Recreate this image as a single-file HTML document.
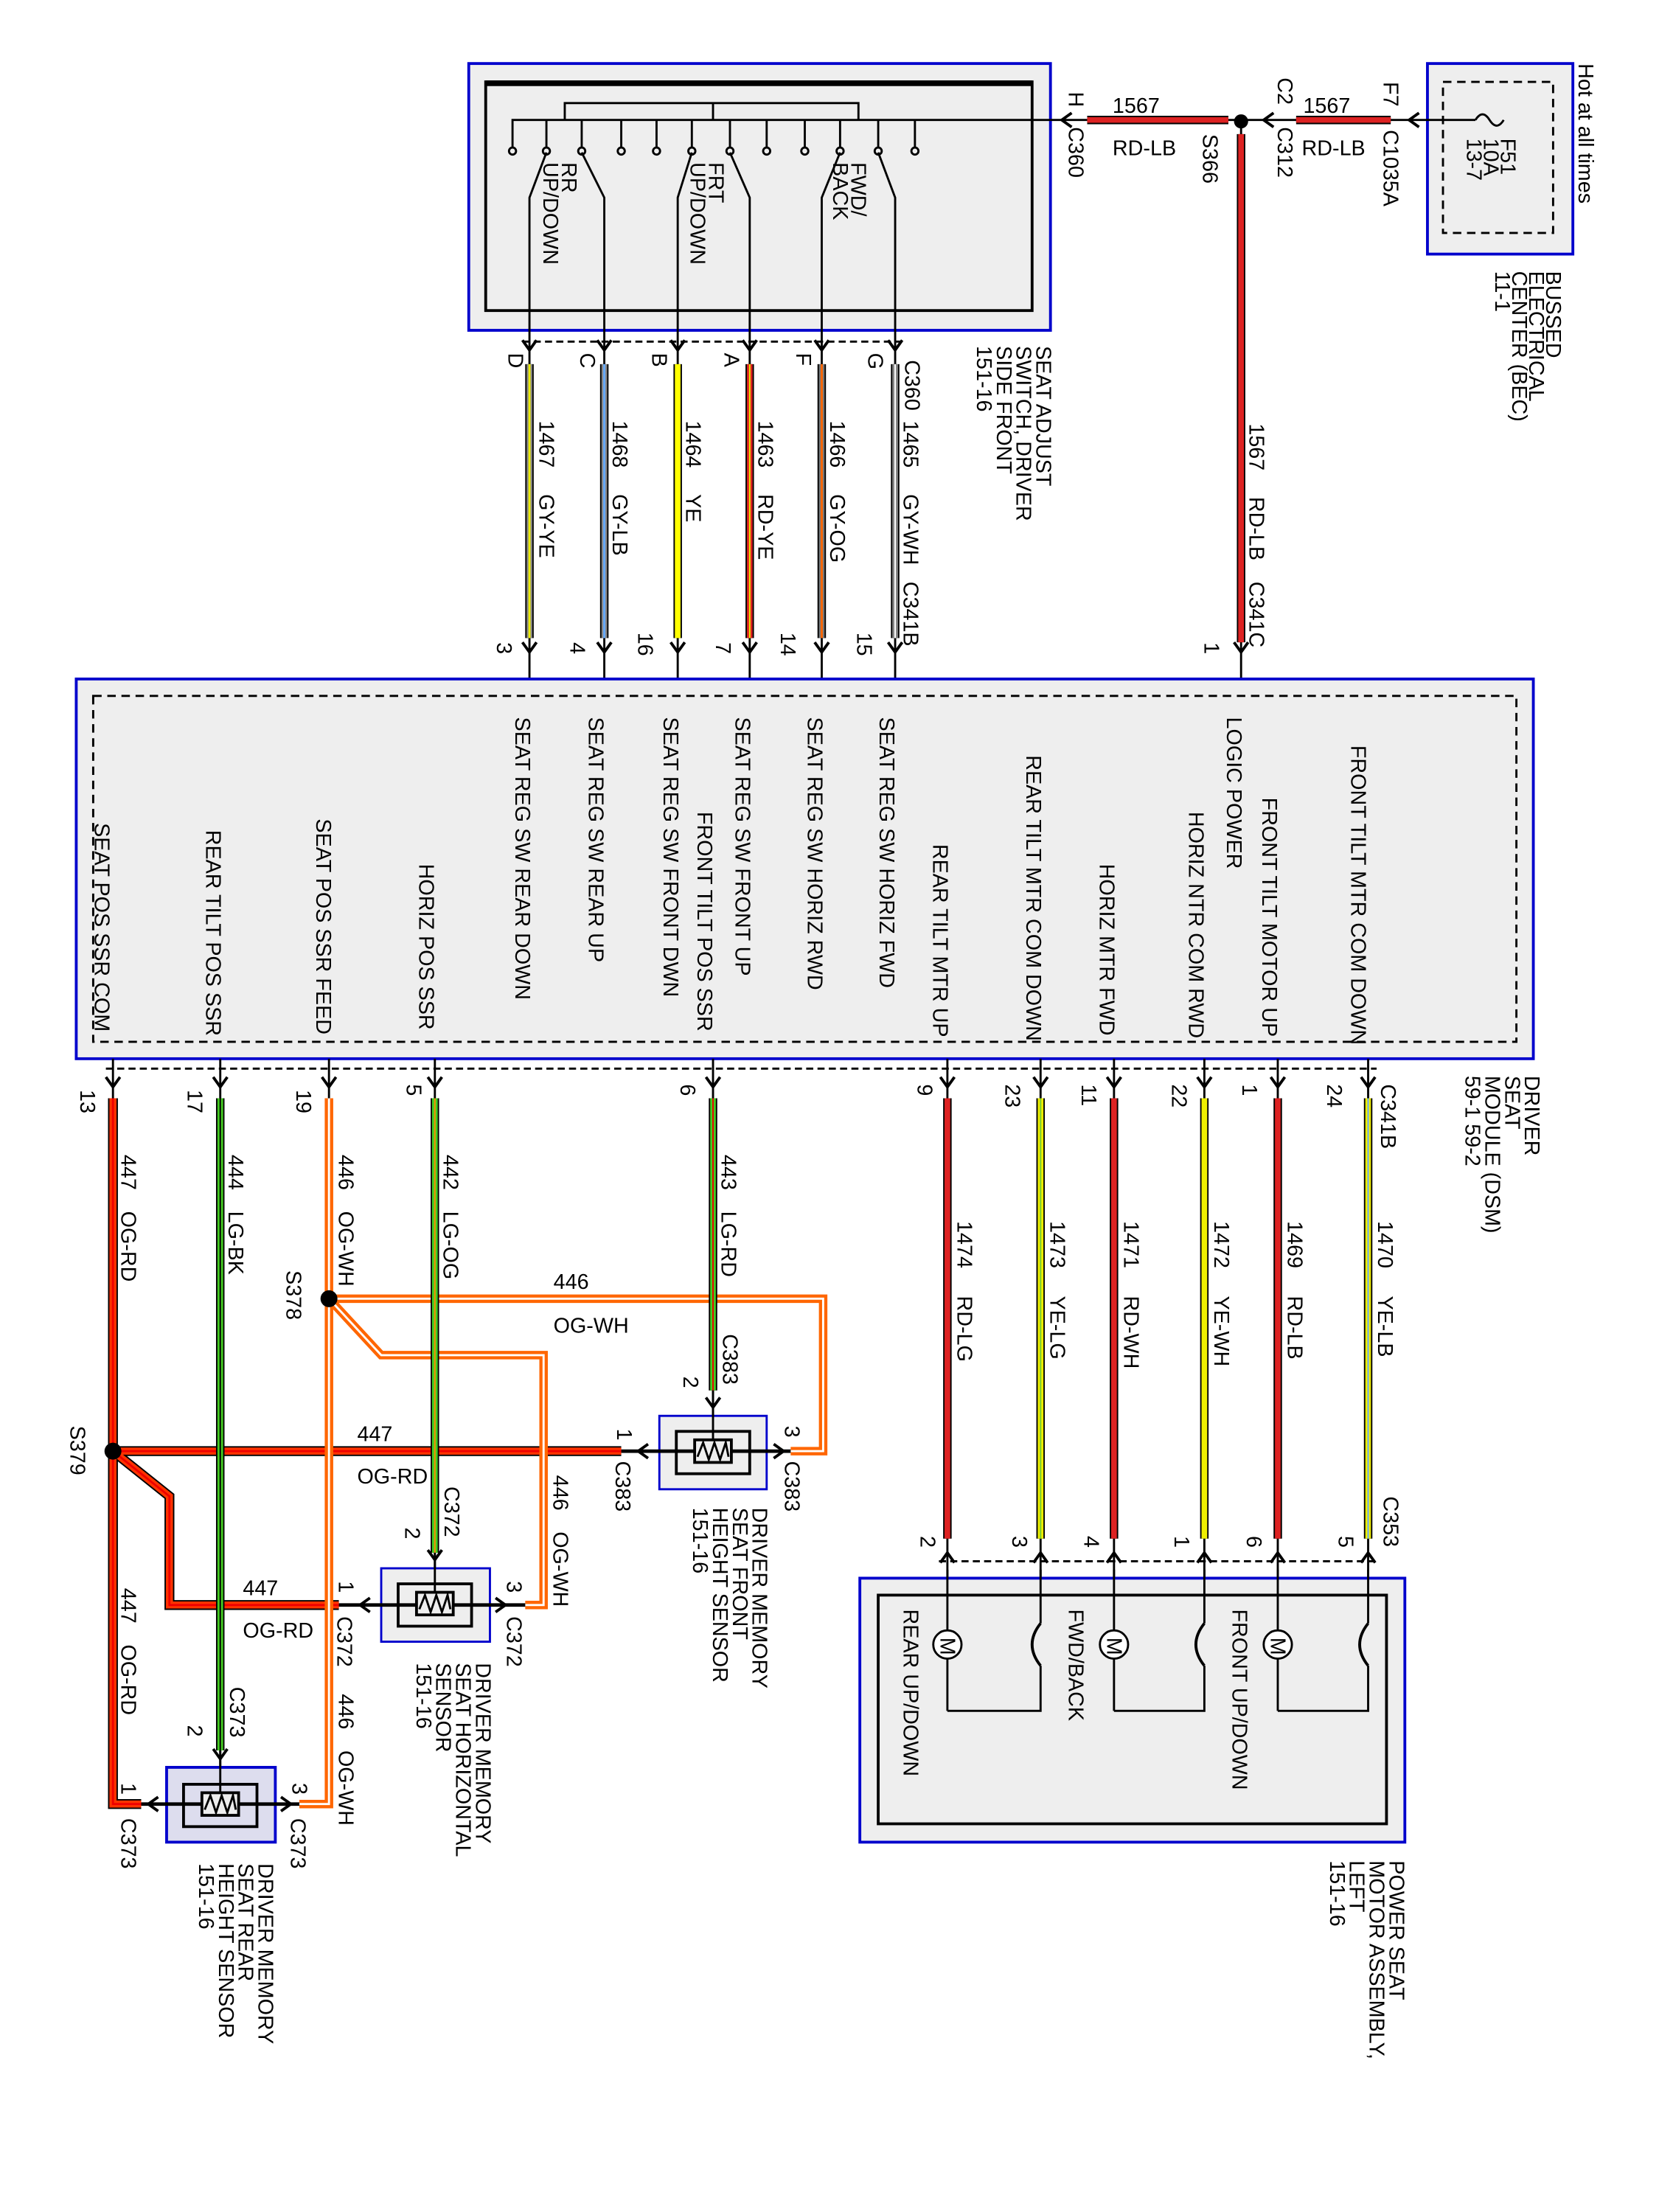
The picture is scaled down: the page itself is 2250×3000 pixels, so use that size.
<!DOCTYPE html>
<html><head><meta charset="utf-8"><style>
html,body{margin:0;padding:0;background:#fff}
svg{display:block}
text{font-family:"Liberation Sans",Arial,sans-serif;font-size:15px;fill:#000}
</style></head><body>
<svg width="2250" height="3000" viewBox="0 0 1175 1567" preserveAspectRatio="none" xmlns="http://www.w3.org/2000/svg">
<defs>
<g id="chv"><polyline points="-5,-7 0,0 5,-7" fill="none" stroke="#000" stroke-width="2"/></g>
<g id="chu"><polyline points="-5,7 0,0 5,7" fill="none" stroke="#000" stroke-width="2"/></g>
</defs>
<rect width="1175" height="1567" fill="#fff"/>

<!-- Switch box -->
<rect x="332" y="45" width="412" height="189" fill="#eee" stroke="#0000cc" stroke-width="2"/>
<rect x="344" y="58" width="387" height="162" fill="#eee" stroke="#000" stroke-width="2"/>
<line x1="344" y1="59" x2="731" y2="59" stroke="#000" stroke-width="4"/>
<g stroke="#000" stroke-width="1.5" fill="none">
<polyline points="363,105 363,85 744,85"/>
<polyline points="400,85 400,73 608,73 608,85"/>
<line x1="505" y1="73" x2="505" y2="85"/>
<line x1="387" y1="85" x2="387" y2="105"/><line x1="412" y1="85" x2="412" y2="105"/>
<line x1="440" y1="85" x2="440" y2="105"/><line x1="465" y1="85" x2="465" y2="105"/>
<line x1="490" y1="85" x2="490" y2="105"/><line x1="517" y1="85" x2="517" y2="105"/>
<line x1="543" y1="85" x2="543" y2="105"/><line x1="570" y1="85" x2="570" y2="105"/>
<line x1="595" y1="85" x2="595" y2="105"/><line x1="622" y1="85" x2="622" y2="105"/>
<line x1="648" y1="85" x2="648" y2="105"/>
<circle cx="363" cy="107" r="2.5"/><circle cx="387" cy="107" r="2.5"/><circle cx="412" cy="107" r="2.5"/><circle cx="440" cy="107" r="2.5"/><circle cx="465" cy="107" r="2.5"/><circle cx="490" cy="107" r="2.5"/><circle cx="517" cy="107" r="2.5"/><circle cx="543" cy="107" r="2.5"/><circle cx="570" cy="107" r="2.5"/><circle cx="595" cy="107" r="2.5"/><circle cx="622" cy="107" r="2.5"/><circle cx="648" cy="107" r="2.5"/>
<polyline points="375,240 375,140 387,108"/><polyline points="428,240 428,140 412,108"/>
<polyline points="480,240 480,140 490,108"/><polyline points="531,240 531,140 517,108"/>
<polyline points="582,240 582,140 595,108"/><polyline points="634,240 634,140 622,108"/>
</g>
<text transform="translate(398,115) rotate(90)">RR<tspan x="0" dy="13">UP/DOWN</tspan></text>
<text transform="translate(502,115) rotate(90)">FRT<tspan x="0" dy="13">UP/DOWN</tspan></text>
<text transform="translate(603,115) rotate(90)">FWD/<tspan x="0" dy="13">BACK</tspan></text>

<!-- top wire -->
<line x1="744" y1="85" x2="1010" y2="85" stroke="#000" stroke-width="1.5"/>
<line x1="770" y1="85" x2="870" y2="85" stroke="#000" stroke-width="6"/>
<line x1="770" y1="85" x2="870" y2="85" stroke="#d22" stroke-width="4"/>
<line x1="918" y1="85" x2="985" y2="85" stroke="#000" stroke-width="6"/>
<line x1="918" y1="85" x2="985" y2="85" stroke="#d22" stroke-width="4"/>
<circle cx="879" cy="86" r="5" fill="#000"/>
<use href="#chu" transform="translate(752,85) rotate(-90)"/>
<use href="#chu" transform="translate(895,85) rotate(-90)"/>
<use href="#chu" transform="translate(998,85) rotate(-90)"/>
<text x="788" y="80">1567</text><text x="788" y="110">RD-LB</text>
<text x="923" y="80">1567</text><text x="922" y="110">RD-LB</text>
<text transform="translate(757,65) rotate(90)">H</text>
<text transform="translate(757,90) rotate(90)">C360</text>
<text transform="translate(852,95) rotate(90)">S366</text>
<text transform="translate(905,55) rotate(90)">C2</text>
<text transform="translate(905,90) rotate(90)">C312</text>
<text transform="translate(980,58) rotate(90)">F7</text>
<text transform="translate(980,92) rotate(90)">C1035A</text>
<!-- BEC -->
<rect x="1011" y="45" width="103" height="135" fill="#eee" stroke="#0000cc" stroke-width="2"/>
<rect x="1022" y="58" width="78" height="107" fill="none" stroke="#000" stroke-width="1.5" stroke-dasharray="6,4"/>
<path d="M1010,85 L1045,85 M1045,85 q5,-8 10,0 q5,8 10,0" stroke="#000" stroke-width="1.5" fill="none"/>
<text transform="translate(1063,98) rotate(90)" font-size="13">F51<tspan x="0" dy="12">10A</tspan><tspan x="0" dy="12">13-7</tspan></text>
<text transform="translate(1118,45) rotate(90)">Hot at all times</text>
<text transform="translate(1095,192) rotate(90)">BUSSED<tspan x="0" dy="12">ELECTRICAL</tspan><tspan x="0" dy="12">CENTER (BEC)</tspan><tspan x="0" dy="12">11-1</tspan></text>

<!-- vertical LOGIC POWER wire -->
<line x1="879" y1="86" x2="879" y2="481" stroke="#000" stroke-width="1.5"/>
<line x1="879" y1="95" x2="879" y2="455" stroke="#000" stroke-width="6"/>
<line x1="879" y1="95" x2="879" y2="455" stroke="#d22" stroke-width="4"/>
<use href="#chv" transform="translate(879,462)"/>
<text transform="translate(885,300) rotate(90)">1567</text>
<text transform="translate(885,352) rotate(90)">RD-LB</text>
<text transform="translate(885,412) rotate(90)">C341C</text>
<text transform="translate(853,455) rotate(90)">1</text>

<!-- Switch wires -->
<line x1="370" y1="242" x2="640" y2="242" stroke="#000" stroke-width="1.5" stroke-dasharray="5,3"/>
<g stroke-width="1.5">
<line x1="375" y1="240" x2="375" y2="481" stroke="#000"/><line x1="428" y1="240" x2="428" y2="481" stroke="#000"/>
<line x1="480" y1="240" x2="480" y2="481" stroke="#000"/><line x1="531" y1="240" x2="531" y2="481" stroke="#000"/>
<line x1="582" y1="240" x2="582" y2="481" stroke="#000"/><line x1="634" y1="240" x2="634" y2="481" stroke="#000"/>
</g>
<g>
<line x1="375" y1="258" x2="375" y2="452" stroke="#000" stroke-width="6"/><line x1="375" y1="258" x2="375" y2="452" stroke="#888" stroke-width="4"/><line x1="375" y1="258" x2="375" y2="452" stroke="#ee0" stroke-width="1.5"/>
<line x1="428" y1="258" x2="428" y2="452" stroke="#000" stroke-width="6"/><line x1="428" y1="258" x2="428" y2="452" stroke="#888" stroke-width="4"/><line x1="428" y1="258" x2="428" y2="452" stroke="#6af" stroke-width="1.5"/>
<line x1="480" y1="258" x2="480" y2="452" stroke="#000" stroke-width="6"/><line x1="480" y1="258" x2="480" y2="452" stroke="#ff0" stroke-width="4"/>
<line x1="531" y1="258" x2="531" y2="452" stroke="#000" stroke-width="6"/><line x1="531" y1="258" x2="531" y2="452" stroke="#d22" stroke-width="4"/><line x1="531" y1="258" x2="531" y2="452" stroke="#ee0" stroke-width="1"/>
<line x1="582" y1="258" x2="582" y2="452" stroke="#000" stroke-width="6"/><line x1="582" y1="258" x2="582" y2="452" stroke="#777" stroke-width="4"/><line x1="582" y1="258" x2="582" y2="452" stroke="#f60" stroke-width="1.5"/>
<line x1="634" y1="258" x2="634" y2="452" stroke="#000" stroke-width="6"/><line x1="634" y1="258" x2="634" y2="452" stroke="#888" stroke-width="4"/><line x1="634" y1="258" x2="634" y2="452" stroke="#fff" stroke-width="1"/>
</g>
<use href="#chv" transform="translate(375,248)"/><use href="#chv" transform="translate(428,248)"/><use href="#chv" transform="translate(480,248)"/><use href="#chv" transform="translate(531,248)"/><use href="#chv" transform="translate(582,248)"/><use href="#chv" transform="translate(634,248)"/>
<use href="#chv" transform="translate(375,462)"/><use href="#chv" transform="translate(428,462)"/><use href="#chv" transform="translate(480,462)"/><use href="#chv" transform="translate(531,462)"/><use href="#chv" transform="translate(582,462)"/><use href="#chv" transform="translate(634,462)"/>
<text transform="translate(360,250) rotate(90)">D</text><text transform="translate(411,250) rotate(90)">C</text><text transform="translate(462,250) rotate(90)">B</text><text transform="translate(513,250) rotate(90)">A</text><text transform="translate(564,250) rotate(90)">F</text><text transform="translate(615,250) rotate(90)">G</text>
<text transform="translate(641,255) rotate(90)">C360</text>
<text transform="translate(382,298) rotate(90)">1467</text><text transform="translate(382,350) rotate(90)">GY-YE</text>
<text transform="translate(434,298) rotate(90)">1468</text><text transform="translate(434,350) rotate(90)">GY-LB</text>
<text transform="translate(486,298) rotate(90)">1464</text><text transform="translate(486,350) rotate(90)">YE</text>
<text transform="translate(537,298) rotate(90)">1463</text><text transform="translate(537,350) rotate(90)">RD-YE</text>
<text transform="translate(588,298) rotate(90)">1466</text><text transform="translate(588,350) rotate(90)">GY-OG</text>
<text transform="translate(640,298) rotate(90)">1465</text><text transform="translate(640,350) rotate(90)">GY-WH</text>
<text transform="translate(640,412) rotate(90)">C341B</text>
<text transform="translate(734,245) rotate(90)">SEAT ADJUST<tspan x="0" dy="14">SWITCH, DRIVER</tspan><tspan x="0" dy="14">SIDE FRONT</tspan><tspan x="0" dy="14">151-16</tspan></text>
<text transform="translate(352,455) rotate(90)">3</text><text transform="translate(404,455) rotate(90)">4</text><text transform="translate(452,448) rotate(90)">16</text><text transform="translate(507,455) rotate(90)">7</text><text transform="translate(553,448) rotate(90)">14</text><text transform="translate(607,448) rotate(90)">15</text>

<!-- Module -->
<rect x="54" y="481" width="1032" height="269" fill="#eee" stroke="#0000cc" stroke-width="2"/>
<rect x="66" y="493" width="1008" height="245" fill="none" stroke="#000" stroke-width="1.5" stroke-dasharray="6,4"/>
<text transform="translate(365,508) rotate(90)">SEAT REG SW REAR DOWN</text>
<text transform="translate(417,508) rotate(90)">SEAT REG SW REAR UP</text>
<text transform="translate(470,508) rotate(90)">SEAT REG SW FRONT DWN</text>
<text transform="translate(521,508) rotate(90)">SEAT REG SW FRONT UP</text>
<text transform="translate(572,508) rotate(90)">SEAT REG SW HORIZ RWD</text>
<text transform="translate(623,508) rotate(90)">SEAT REG SW HORIZ FWD</text>
<text transform="translate(869,508) rotate(90)">LOGIC POWER</text>
<text transform="translate(957,528) rotate(90)">FRONT TILT MTR COM DOWN</text>
<text transform="translate(894,565) rotate(90)">FRONT TILT MOTOR UP</text>
<text transform="translate(842,575) rotate(90)">HORIZ NTR COM RWD</text>
<text transform="translate(779,612) rotate(90)">HORIZ MTR FWD</text>
<text transform="translate(727,535) rotate(90)">REAR TILT MTR COM DOWN</text>
<text transform="translate(661,598) rotate(90)">REAR TILT MTR UP</text>
<text transform="translate(494,575) rotate(90)">FRONT TILT POS SSR</text>
<text transform="translate(297,612) rotate(90)">HORIZ POS SSR</text>
<text transform="translate(224,580) rotate(90)">SEAT POS SSR FEED</text>
<text transform="translate(146,588) rotate(90)">REAR TILT POS SSR</text>
<text transform="translate(67,583) rotate(90)">SEAT POS SSR COM</text>
<text transform="translate(1080,762) rotate(90)">DRIVER<tspan x="0" dy="14">SEAT</tspan><tspan x="0" dy="14">MODULE (DSM)</tspan><tspan x="0" dy="14">59-1    59-2</tspan></text>

<!-- lower module wires -->
<line x1="75" y1="757" x2="975" y2="757" stroke="#000" stroke-width="1.5" stroke-dasharray="5,3"/>
<g stroke="#000" stroke-width="1.5">
<line x1="80" y1="750" x2="80" y2="785"/><line x1="156" y1="750" x2="156" y2="785"/><line x1="233" y1="750" x2="233" y2="785"/><line x1="308" y1="750" x2="308" y2="785"/><line x1="505" y1="750" x2="505" y2="785"/>
<line x1="671" y1="750" x2="671" y2="1160"/><line x1="737" y1="750" x2="737" y2="1160"/><line x1="789" y1="750" x2="789" y2="1160"/><line x1="853" y1="750" x2="853" y2="1160"/><line x1="905" y1="750" x2="905" y2="1160"/><line x1="969" y1="750" x2="969" y2="1160"/>
</g>
<g>
<line x1="671" y1="778" x2="671" y2="1090" stroke="#000" stroke-width="6"/><line x1="671" y1="778" x2="671" y2="1090" stroke="#d22" stroke-width="4"/>
<line x1="737" y1="778" x2="737" y2="1090" stroke="#000" stroke-width="6"/><line x1="737" y1="778" x2="737" y2="1090" stroke="#ee0" stroke-width="4"/><line x1="737" y1="778" x2="737" y2="1090" stroke="#7c3" stroke-width="1"/>
<line x1="789" y1="778" x2="789" y2="1090" stroke="#000" stroke-width="6"/><line x1="789" y1="778" x2="789" y2="1090" stroke="#d22" stroke-width="4"/>
<line x1="853" y1="778" x2="853" y2="1090" stroke="#000" stroke-width="6"/><line x1="853" y1="778" x2="853" y2="1090" stroke="#ee0" stroke-width="4"/>
<line x1="905" y1="778" x2="905" y2="1090" stroke="#000" stroke-width="6"/><line x1="905" y1="778" x2="905" y2="1090" stroke="#d22" stroke-width="4"/>
<line x1="969" y1="778" x2="969" y2="1090" stroke="#000" stroke-width="6"/><line x1="969" y1="778" x2="969" y2="1090" stroke="#ee0" stroke-width="4"/><line x1="969" y1="778" x2="969" y2="1090" stroke="#6af" stroke-width="1"/>
</g>
<!-- OG-RD 447 -->
<path d="M80,778 L80,1278 L100,1278 M80,1028 L440,1028 M80,1028 L120,1060 L120,1137 L240,1137" fill="none" stroke="#000" stroke-width="7"/>
<path d="M80,778 L80,1278 L100,1278 M80,1028 L440,1028 M80,1028 L120,1060 L120,1137 L240,1137" fill="none" stroke="#f30" stroke-width="5"/>
<path d="M80,778 L80,1278 L100,1278 M80,1028 L440,1028 M80,1028 L120,1060 L120,1137 L240,1137" fill="none" stroke="#e00" stroke-width="1.5"/>
<!-- OG-WH 446 -->
<path d="M233,778 L233,1278 L212,1278 M233,920 L583,920 L583,1028 L560,1028 M233,920 L270,960 L385,960 L385,1137 L372,1137" fill="none" stroke="#f60" stroke-width="6"/>
<path d="M233,778 L233,1278 L212,1278 M233,920 L583,920 L583,1028 L560,1028 M233,920 L270,960 L385,960 L385,1137 L372,1137" fill="none" stroke="#fff" stroke-width="1.5"/>
<circle cx="80" cy="1028" r="6" fill="#000"/><circle cx="233" cy="920" r="6" fill="#000"/>
<!-- greens -->
<line x1="156" y1="778" x2="156" y2="1240" stroke="#000" stroke-width="6"/><line x1="156" y1="778" x2="156" y2="1240" stroke="#4c2" stroke-width="4"/><line x1="156" y1="778" x2="156" y2="1240" stroke="#000" stroke-width="1"/>
<line x1="308" y1="778" x2="308" y2="1100" stroke="#000" stroke-width="6"/><line x1="308" y1="778" x2="308" y2="1100" stroke="#4c2" stroke-width="4"/><line x1="308" y1="778" x2="308" y2="1100" stroke="#f80" stroke-width="1"/>
<line x1="505" y1="778" x2="505" y2="985" stroke="#000" stroke-width="6"/><line x1="505" y1="778" x2="505" y2="985" stroke="#4c2" stroke-width="4"/><line x1="505" y1="778" x2="505" y2="985" stroke="#e00" stroke-width="1"/>
<g stroke="#000" stroke-width="1.5">
<line x1="156" y1="1240" x2="156" y2="1265"/><line x1="308" y1="1100" x2="308" y2="1125"/><line x1="505" y1="985" x2="505" y2="1015"/>
</g>
<use href="#chv" transform="translate(80,770)"/><use href="#chv" transform="translate(156,770)"/><use href="#chv" transform="translate(233,770)"/><use href="#chv" transform="translate(308,770)"/><use href="#chv" transform="translate(505,770)"/><use href="#chv" transform="translate(671,770)"/><use href="#chv" transform="translate(737,770)"/><use href="#chv" transform="translate(789,770)"/><use href="#chv" transform="translate(853,770)"/><use href="#chv" transform="translate(905,770)"/><use href="#chv" transform="translate(969,770)"/>
<text transform="translate(57,772) rotate(90)">13</text><text transform="translate(133,772) rotate(90)">17</text><text transform="translate(210,772) rotate(90)">19</text><text transform="translate(288,768) rotate(90)">5</text><text transform="translate(482,768) rotate(90)">6</text><text transform="translate(650,768) rotate(90)">9</text><text transform="translate(712,768) rotate(90)">23</text><text transform="translate(766,768) rotate(90)">11</text><text transform="translate(830,768) rotate(90)">22</text><text transform="translate(880,768) rotate(90)">1</text><text transform="translate(940,768) rotate(90)">24</text>
<text transform="translate(978,768) rotate(90)">C341B</text>
<text transform="translate(86,818) rotate(90)">447</text><text transform="translate(86,858) rotate(90)">OG-RD</text>
<text transform="translate(162,818) rotate(90)">444</text><text transform="translate(162,858) rotate(90)">LG-BK</text>
<text transform="translate(240,818) rotate(90)">446</text><text transform="translate(240,858) rotate(90)">OG-WH</text>
<text transform="translate(314,818) rotate(90)">442</text><text transform="translate(314,858) rotate(90)">LG-OG</text>
<text transform="translate(511,818) rotate(90)">443</text><text transform="translate(511,858) rotate(90)">LG-RD</text>
<text transform="translate(678,865) rotate(90)">1474</text><text transform="translate(678,918) rotate(90)">RD-LG</text>
<text transform="translate(744,865) rotate(90)">1473</text><text transform="translate(744,918) rotate(90)">YE-LG</text>
<text transform="translate(796,865) rotate(90)">1471</text><text transform="translate(796,918) rotate(90)">RD-WH</text>
<text transform="translate(860,865) rotate(90)">1472</text><text transform="translate(860,918) rotate(90)">YE-WH</text>
<text transform="translate(912,865) rotate(90)">1469</text><text transform="translate(912,918) rotate(90)">RD-LB</text>
<text transform="translate(976,865) rotate(90)">1470</text><text transform="translate(976,918) rotate(90)">YE-LB</text>
<text transform="translate(980,1060) rotate(90)">C353</text>
<text transform="translate(203,900) rotate(90)">S378</text>
<text transform="translate(50,1010) rotate(90)">S379</text>
<text x="392" y="913">446</text><text x="392" y="944">OG-WH</text>
<text x="253" y="1021">447</text><text x="253" y="1051">OG-RD</text>
<text x="172" y="1130">447</text><text x="172" y="1160">OG-RD</text>
<text transform="translate(392,1045) rotate(90)">446</text><text transform="translate(392,1085) rotate(90)">OG-WH</text>
<text transform="translate(86,1125) rotate(90)">447</text><text transform="translate(86,1165) rotate(90)">OG-RD</text>
<text transform="translate(240,1200) rotate(90)">446</text><text transform="translate(240,1240) rotate(90)">OG-WH</text>

<!-- Sensors -->
<g stroke="#000" stroke-width="2">
<rect x="467" y="1003" width="76" height="52" fill="#eee" stroke="#0000cc" stroke-width="1.5"/>
<rect x="479" y="1014" width="52" height="30" fill="none"/>
<rect x="492" y="1020" width="26" height="16" fill="#eee"/>
<polyline points="494,1032 498,1022 502,1034 506,1022 510,1034 514,1022 516,1032" fill="none" stroke-width="1.5"/>
<line x1="440" y1="1028" x2="492" y2="1028" stroke-width="2.5"/><line x1="518" y1="1028" x2="560" y2="1028" stroke-width="2.5"/>
<line x1="505" y1="985" x2="505" y2="1020" stroke-width="1.5"/>

<rect x="270" y="1111" width="77" height="52" fill="#eee" stroke="#0000cc" stroke-width="1.5"/>
<rect x="282" y="1122" width="52" height="30" fill="none"/>
<rect x="295" y="1128" width="26" height="16" fill="#eee"/>
<polyline points="297,1140 301,1130 305,1142 309,1130 313,1142 317,1130 319,1140" fill="none" stroke-width="1.5"/>
<line x1="240" y1="1137" x2="295" y2="1137" stroke-width="2.5"/><line x1="321" y1="1137" x2="372" y2="1137" stroke-width="2.5"/>
<line x1="308" y1="1100" x2="308" y2="1128" stroke-width="1.5"/>

<rect x="118" y="1252" width="77" height="53" fill="#dde" stroke="#0000cc" stroke-width="2"/>
<rect x="130" y="1264" width="52" height="30" fill="none"/>
<rect x="143" y="1270" width="26" height="16" fill="#eee"/>
<polyline points="145,1282 149,1272 153,1284 157,1272 161,1284 165,1272 167,1282" fill="none" stroke-width="1.5"/>
<line x1="100" y1="1278" x2="143" y2="1278" stroke-width="2.5"/><line x1="169" y1="1278" x2="212" y2="1278" stroke-width="2.5"/>
<line x1="156" y1="1240" x2="156" y2="1270" stroke-width="1.5"/>
</g>
<use href="#chv" transform="translate(505,997)"/><use href="#chu" transform="translate(452,1028) rotate(-90)"/><use href="#chu" transform="translate(555,1028) rotate(90)"/>
<use href="#chv" transform="translate(308,1105)"/><use href="#chu" transform="translate(255,1137) rotate(-90)"/><use href="#chu" transform="translate(358,1137) rotate(90)"/>
<use href="#chv" transform="translate(156,1246)"/><use href="#chu" transform="translate(105,1278) rotate(-90)"/><use href="#chu" transform="translate(206,1278) rotate(90)"/>
<text transform="translate(512,945) rotate(90)">C383</text><text transform="translate(484,975) rotate(90)">2</text><text transform="translate(437,1012) rotate(90)">1</text><text transform="translate(556,1010) rotate(90)">3</text>
<text transform="translate(436,1035) rotate(90)">C383</text><text transform="translate(556,1035) rotate(90)">C383</text>
<text transform="translate(315,1053) rotate(90)">C372</text><text transform="translate(287,1082) rotate(90)">2</text><text transform="translate(240,1120) rotate(90)">1</text><text transform="translate(359,1120) rotate(90)">3</text>
<text transform="translate(239,1145) rotate(90)">C372</text><text transform="translate(359,1145) rotate(90)">C372</text>
<text transform="translate(163,1195) rotate(90)">C373</text><text transform="translate(133,1222) rotate(90)">2</text><text transform="translate(86,1263) rotate(90)">1</text><text transform="translate(207,1263) rotate(90)">3</text>
<text transform="translate(86,1288) rotate(90)">C373</text><text transform="translate(206,1288) rotate(90)">C373</text>
<text transform="translate(533,1068) rotate(90)">DRIVER MEMORY<tspan x="0" dy="14">SEAT FRONT</tspan><tspan x="0" dy="14">HEIGHT SENSOR</tspan><tspan x="0" dy="14">151-16</tspan></text>
<text transform="translate(337,1178) rotate(90)">DRIVER MEMORY<tspan x="0" dy="14">SEAT HORIZONTAL</tspan><tspan x="0" dy="14">SENSOR</tspan><tspan x="0" dy="14">151-16</tspan></text>
<text transform="translate(183,1320) rotate(90)">DRIVER MEMORY<tspan x="0" dy="14">SEAT REAR</tspan><tspan x="0" dy="14">HEIGHT SENSOR</tspan><tspan x="0" dy="14">151-16</tspan></text>

<!-- Motor assembly -->
<line x1="665" y1="1106" x2="975" y2="1106" stroke="#000" stroke-width="1.5" stroke-dasharray="5,3"/>
<use href="#chu" transform="translate(671,1100)"/><use href="#chu" transform="translate(737,1100)"/><use href="#chu" transform="translate(789,1100)"/><use href="#chu" transform="translate(853,1100)"/><use href="#chu" transform="translate(905,1100)"/><use href="#chu" transform="translate(969,1100)"/>
<text transform="translate(652,1088) rotate(90)">2</text><text transform="translate(717,1088) rotate(90)">3</text><text transform="translate(768,1088) rotate(90)">4</text><text transform="translate(832,1088) rotate(90)">1</text><text transform="translate(883,1088) rotate(90)">6</text><text transform="translate(948,1088) rotate(90)">5</text>
<rect x="609" y="1118" width="386" height="187" fill="#eee" stroke="#0000cc" stroke-width="2"/>
<rect x="622" y="1130" width="360" height="162" fill="none" stroke="#000" stroke-width="2"/>
<g stroke="#000" stroke-width="1.5" fill="#fff">
<line x1="671" y1="1112" x2="671" y2="1212"/><line x1="737" y1="1112" x2="737" y2="1150"/><polyline points="671,1212 737,1212 737,1180" fill="none"/>
<line x1="789" y1="1112" x2="789" y2="1212"/><line x1="853" y1="1112" x2="853" y2="1150"/><polyline points="789,1212 853,1212 853,1180" fill="none"/>
<line x1="905" y1="1112" x2="905" y2="1212"/><line x1="969" y1="1112" x2="969" y2="1150"/><polyline points="905,1212 969,1212 969,1180" fill="none"/>
<path d="M737,1150 q-12,15 0,30" fill="none" stroke-width="2"/><path d="M853,1150 q-12,15 0,30" fill="none" stroke-width="2"/><path d="M969,1150 q-12,15 0,30" fill="none" stroke-width="2"/>
<circle cx="671" cy="1165" r="10"/><circle cx="789" cy="1165" r="10"/><circle cx="905" cy="1165" r="10"/>
</g>
<text transform="translate(666,1160) rotate(90)" font-size="12">M</text>
<text transform="translate(784,1160) rotate(90)" font-size="12">M</text>
<text transform="translate(900,1160) rotate(90)" font-size="12">M</text>
<text transform="translate(640,1140) rotate(90)">REAR UP/DOWN</text>
<text transform="translate(757,1140) rotate(90)">FWD/BACK</text>
<text transform="translate(873,1140) rotate(90)">FRONT UP/DOWN</text>
<text transform="translate(984,1318) rotate(90)">POWER SEAT<tspan x="0" dy="14">MOTOR ASSEMBLY,</tspan><tspan x="0" dy="14">LEFT</tspan><tspan x="0" dy="14">151-16</tspan></text>
</svg>
</body></html>
